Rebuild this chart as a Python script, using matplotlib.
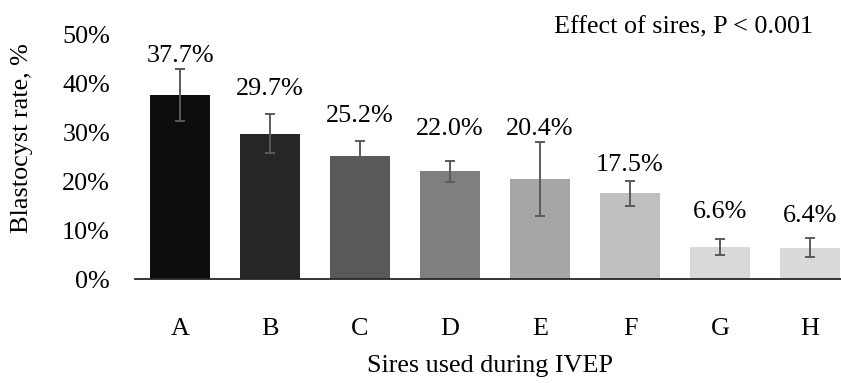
import matplotlib
matplotlib.use("Agg")
import matplotlib.pyplot as plt
from matplotlib.ticker import FuncFormatter

categories = ["A", "B", "C", "D", "E", "F", "G", "H"]
rates = [37.7, 29.7, 25.2, 22.0, 20.4, 17.5, 6.6, 6.4]
errors = [5.3, 4.0, 3.1, 2.1, 7.6, 2.6, 1.6, 2.0]
bar_colors = ["#0d0d0d", "#262626", "#595959", "#7f7f7f",
              "#a6a6a6", "#bfbfbf", "#d9d9d9", "#d9d9d9"]
yticks = [0, 10, 20, 30, 40, 50]
title_text = "Effect of sires, P < 0.001"
xlabel_text = "Sires used during IVEP"
ylabel_text = "Blastocyst rate, %"
# vertical gap (points) between error-bar top and value label
label_pad = [4.5, 13.5, 13.5, 18.5, 4.8, 7.2, 15, 11.3]

plt.rcParams["font.family"] = ["Liberation Serif", "DejaVu Serif"]
FS = 18.8

W, H = 841, 383
fig = plt.figure(figsize=(W / 100, H / 100), dpi=100)
left_px, right_px, top_px, bot_px = 135, 855, 34.5, 279
ax = fig.add_axes([left_px / W, (H - bot_px) / H,
                   (right_px - left_px) / W, (bot_px - top_px) / H])

x = list(range(len(categories)))
ax.bar(x, rates, width=0.667, color=bar_colors, zorder=2)
ax.errorbar(x, rates, yerr=errors, fmt="none", ecolor="#5a5a5a",
            elinewidth=1.4, capsize=3.3, capthick=1.4, zorder=3)

for xi, v, e, p in zip(x, rates, errors, label_pad):
    ax.annotate(f"{v:.1f}%", xy=(xi, v + e), xytext=(0, p),
                textcoords="offset points", ha="center", va="baseline",
                fontsize=FS, color="black")

ax.set_xlim(-0.5, 7.5)
ax.set_ylim(0, 50)
ax.set_yticks(yticks)
ax.yaxis.set_major_formatter(FuncFormatter(lambda v, _: f"{v:.0f}%"))
ax.set_xticks(x)
ax.set_xticklabels(categories)
ax.tick_params(axis="y", length=0, pad=18, labelsize=FS)
ax.tick_params(axis="x", length=0, pad=28, labelsize=FS)

for s in ["top", "right", "left"]:
    ax.spines[s].set_visible(False)
ax.spines["bottom"].set_color("#262626")
ax.spines["bottom"].set_linewidth(1.3)
ax.spines["bottom"].set_zorder(4)

fig.text(813 / W, 1 - 33 / H, title_text, ha="right", va="baseline", fontsize=FS)
fig.text(490 / W, 1 - 366 / H, xlabel_text, ha="center", va="center", fontsize=FS)
fig.text(22 / W, 1 - 138 / H, ylabel_text, ha="center", va="center",
         rotation=90, fontsize=FS)

fig.savefig("out.png", dpi=100)
